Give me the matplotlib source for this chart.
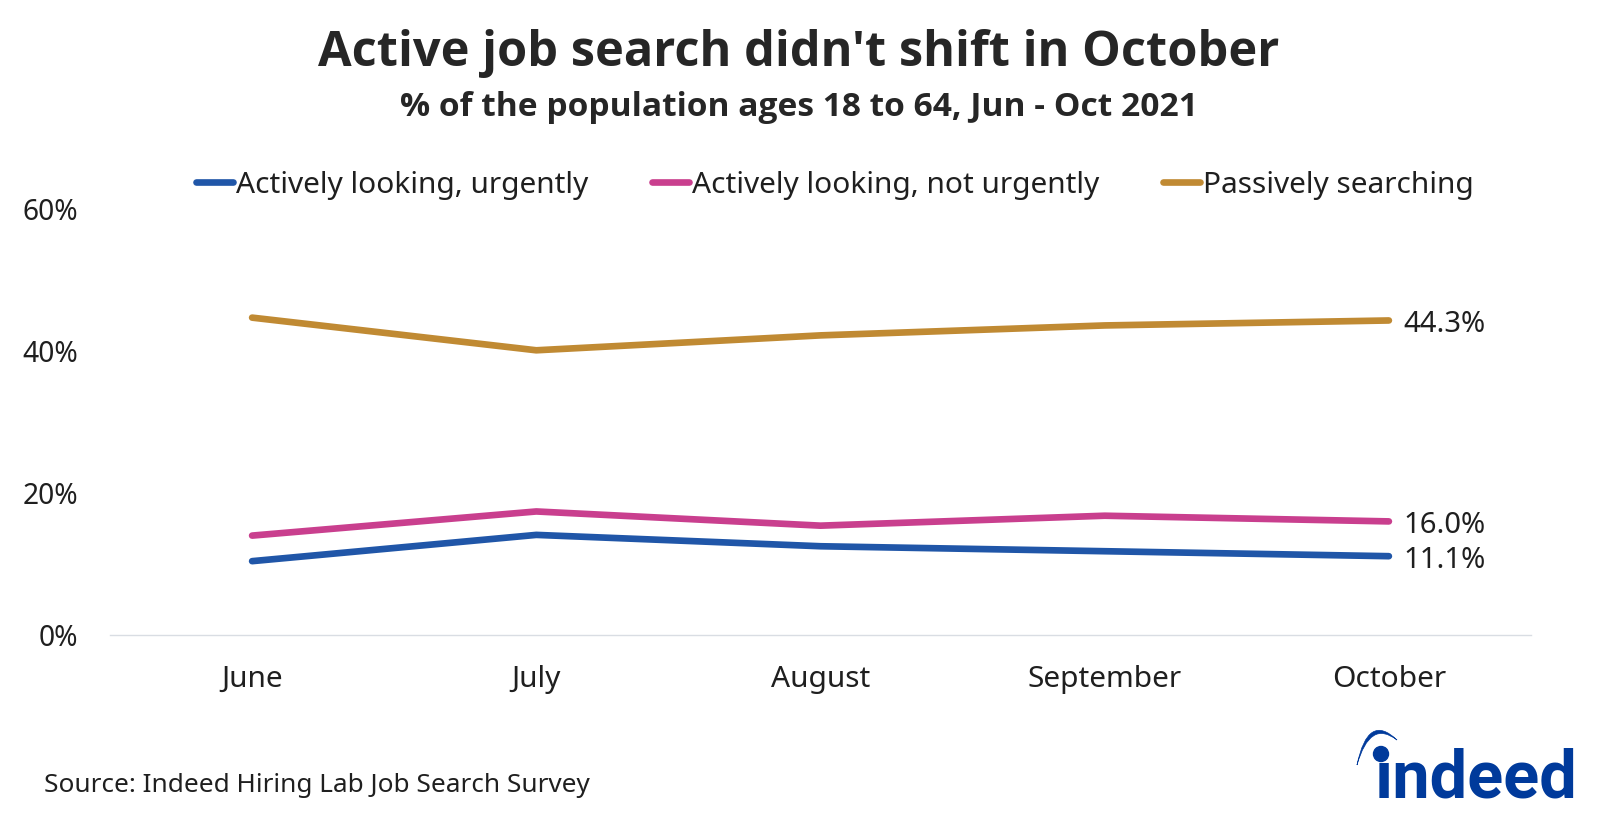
import matplotlib
matplotlib.use('Agg')
import matplotlib.pyplot as plt
from matplotlib.patches import Circle, PathPatch
from matplotlib.path import Path

# Inputs
months = ['June', 'July', 'August', 'September', 'October']
urgent = [10.4, 14.1, 12.5, 11.8, 11.1]
not_urgent = [14.0, 17.4, 15.4, 16.8, 16.0]
passive = [44.7, 40.1, 42.2, 43.6, 44.3]
series_names = ['Actively looking, urgently', 'Actively looking, not urgently', 'Passively searching']
series_colors = ['#2056a8', '#c93f8e', '#c08a33']
end_labels = ['11.1%', '16.0%', '44.3%']
yticks = [0, 20, 40, 60]
ytick_labels = ['0%', '20%', '40%', '60%']

W, H = 1600, 823
plt.rcParams['font.family'] = ['Noto Sans', 'DejaVu Sans']
text_color = '#1f1f1f'
bold_font = ['Open Sans', 'DejaVu Sans']

fig = plt.figure(figsize=(W/100, H/100), dpi=100)
fig.patch.set_facecolor('white')

# 0% sits at y=635 and 60% at y=209 in pixels
ax = fig.add_axes([110/W, 1-635/H, (1531-110)/W, (635-209)/H])
handles = []
for values, name, color in zip([urgent, not_urgent, passive], series_names, series_colors):
    line, = ax.plot(range(len(months)), values, '-', c=color, lw=4.8, label=name,
                    solid_capstyle='round', solid_joinstyle='round', clip_on=False)
    handles.append(line)

for values, label in zip([urgent, not_urgent, passive], end_labels):
    ax.annotate(label, (len(months)-1, values[-1]), xytext=(10.7, -3.2), textcoords='offset points',
                va='center', ha='left', fontsize=21, color=text_color)

ax.set_xlim(-0.5, 4.5)
ax.set_ylim(0, 60)
ax.set_xticks(range(len(months)), months)
ax.set_yticks(yticks, ytick_labels)
ax.tick_params(length=0, labelcolor=text_color)
ax.tick_params(axis='x', pad=21.3, labelsize=21.5)
ax.tick_params(axis='y', pad=23, labelsize=20.3)
for side in ['top', 'right', 'left']:
    ax.spines[side].set_visible(False)
ax.spines['bottom'].set_color('#d9dde3')
ax.spines['bottom'].set_linewidth(1)

leg = fig.legend(handles=handles, loc='center', bbox_to_anchor=(835/W, 1-185/H), ncol=3, frameon=False,
                 fontsize=21.5, handlelength=1.25, handletextpad=0.1, columnspacing=2.12, labelcolor=text_color,
                 borderpad=0, borderaxespad=0)

fig.text(799/W, 1-53/H, "Active job search didn't shift in October", ha='center', va='center',
         fontsize=35.15, fontweight='bold', color='#262626', family=bold_font)
fig.text(799/W, 1-107/H, '% of the population ages 18 to 64, Jun - Oct 2021', ha='center', va='center',
         fontsize=24.1, fontweight='bold', color='#262626', family=bold_font)
fig.text(44/W, 1-786/H, 'Source: Indeed Hiring Lab Job Search Survey', ha='left', va='center',
         fontsize=18.85, color=text_color)

# logo, drawn in pixel coordinates on an overlay
logo = fig.add_axes([0, 0, 1, 1], facecolor='none')
logo.set_xlim(0, W)
logo.set_ylim(H, 0)
logo.axis('off')
blue = '#003a9b'
logo.text(1375, 798, 'ındeed', fontsize=48, fontweight='bold', color=blue, ha='left', va='baseline',
          family=['Roboto', 'DejaVu Sans'])
logo.add_patch(Circle((1381, 754), 7.5, color=blue))
swoosh = Path([(1357, 765), (1368, 712), (1397, 740), (1370, 719), (1357, 765)],
              [Path.MOVETO, Path.CURVE3, Path.CURVE3, Path.CURVE3, Path.CURVE3])
logo.add_patch(PathPatch(swoosh, facecolor=blue, edgecolor=blue, lw=0.5))

plt.savefig('out.png', dpi=100)
